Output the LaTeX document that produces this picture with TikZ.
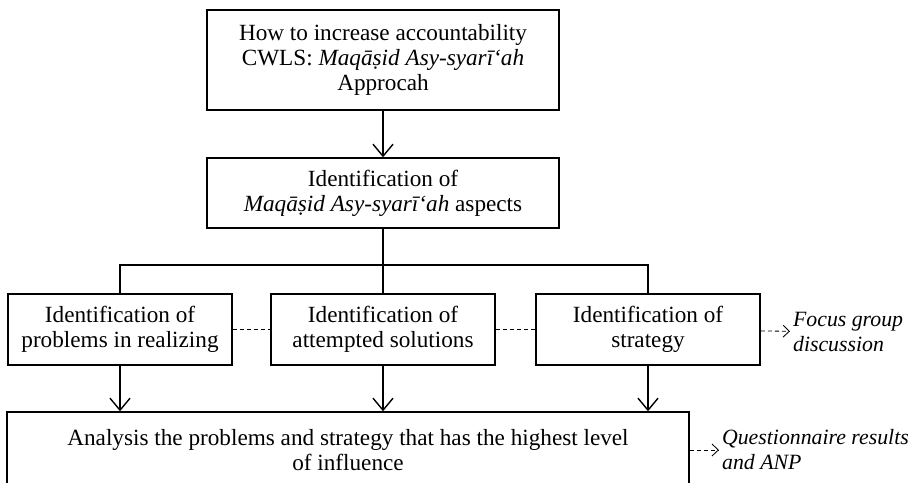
\documentclass[tikz,border=0pt]{standalone}
\usepackage{fontspec}
\setmainfont{Liberation Serif}
\usetikzlibrary{arrows.meta}

\begin{document}
\begin{tikzpicture}[x=0.025cm,y=-0.025cm,
  box/.style={draw,line width=1pt,align=center,inner sep=2pt,font=\fontsize{16.5}{17.8}\selectfont},
  note/.style={anchor=west,align=left,inner sep=2pt,font=\fontsize{15.5}{17.8}\selectfont\itshape},
  line/.style={line width=1pt},
  down/.style={line width=1pt,arrows={-Straight Barb[length=0.3cm,width=0.5cm]}},
  link/.style={line width=0.6pt,dash pattern=on 3pt off 2pt},
  hint/.style={line width=0.6pt,dash pattern=on 3pt off 2pt,arrows={-Straight Barb[length=0.16cm,width=0.3cm]}}]
  \useasboundingbox (0,0) rectangle (918,482);
  \clip (0,0) rectangle (918,482);

  \node[box,minimum width=8.8cm,minimum height=2.5cm] (top) at (383,60)
    {How to increase accountability\\ CWLS: \textit{Maqāṣid Asy-syarī‘ah}\\ Approcah};
  \node[box,minimum width=8.8cm,minimum height=1.75cm] (aspects) at (383,193)
    {Identification of\\ \textit{Maqāṣid Asy-syarī‘ah} aspects};

  \node[box,minimum width=5.6cm,minimum height=1.775cm] (problems) at (120,329.5)
    {Identification of\\ problems in realizing};
  \node[box,minimum width=5.6cm,minimum height=1.775cm] (solutions) at (383,329.5)
    {Identification of\\ attempted solutions};
  \node[box,minimum width=5.6cm,minimum height=1.775cm] (strategy) at (648,329.5)
    {Identification of\\ strategy};

  \node[box,minimum width=17.05cm,minimum height=1.9cm] (analysis) at (348,450)
    {Analysis the problems and strategy that has the highest level\\ of influence};

  \node[note] (focus) at (790,332) {Focus group\\ discussion};
  \node[note] (anp) at (719,450) {Questionnaire results\\ and ANP};

  \coordinate (split) at (383,265);

  \draw[down] (top) -- (aspects);
  \draw[line] (aspects) -- (solutions);
  \draw[line] (problems.north) |- (split) -| (strategy.north);

  \draw[link] (problems) -- (solutions);
  \draw[link] (solutions) -- (strategy);
  \draw[hint] (strategy) -- (focus);
  \draw[hint] (analysis.east |- anp.west) -- (anp);

  \draw[down] (problems) -- (problems |- analysis.north);
  \draw[down] (solutions) -- (solutions |- analysis.north);
  \draw[down] (strategy) -- (strategy |- analysis.north);
\end{tikzpicture}
\end{document}
